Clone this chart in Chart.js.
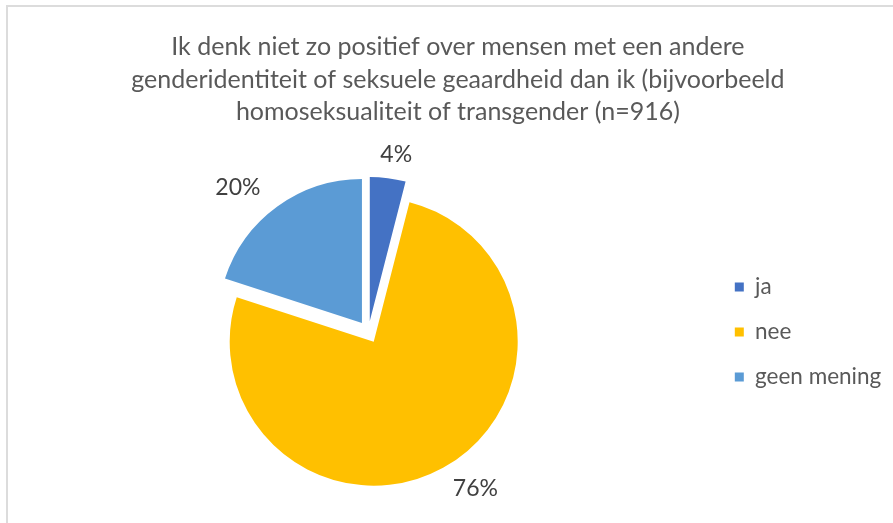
<!DOCTYPE html>
<html>
<head>
<meta charset="utf-8">
<script src="https://cdn.jsdelivr.net/npm/chart.js@4/dist/chart.umd.min.js"></script>
<style>
  html, body { margin: 0; padding: 0; background: #fff; overflow: hidden; }
  #frame { position: absolute; left: 6px; top: 5px; width: 900px; height: 530px; border: 2px solid #dcdcdc; box-sizing: border-box; }
  #wrap { position: absolute; left: 0; top: 0; width: 893px; height: 523px; }
</style>
</head>
<body>
<div id="frame"></div>
<div id="wrap"><canvas id="pie"></canvas></div>
<script>
const titleLines = [
    "Ik denk niet zo positief over mensen met een andere",
    "genderidentiteit of seksuele geaardheid dan ik (bijvoorbeeld",
    "homoseksualiteit of transgender (n=916)"
];
const categories = ["ja", "nee", "geen mening"];
const percentages = [4, 76, 20];
const sliceColors = ["#4472C4", "#FFC000", "#5B9BD5"];

// push every slice a bit away from the centre, like an exploded Excel pie
const explodeSlices = {
    id: "explodeSlices",
    afterDatasetsUpdate(chart) {
        chart.getDatasetMeta(0).data.forEach(arc => {
            const mid = (arc.startAngle + arc.endAngle) / 2;
            arc.x += Math.cos(mid) * 11;
            arc.y += Math.sin(mid) * 11;
        });
    }
};

// percentage labels outside each slice; text is wider than tall, so it
// sits further out sideways than up/down
const sliceLabels = {
    id: "sliceLabels",
    afterDatasetsDraw(chart) {
        const ctx = chart.ctx;
        ctx.save();
        ctx.font = "23px Lato";
        ctx.fillStyle = "#404040";
        ctx.textAlign = "center";
        ctx.textBaseline = "middle";
        chart.getDatasetMeta(0).data.forEach((arc, i) => {
            const mid = (arc.startAngle + arc.endAngle) / 2;
            const x = arc.x + Math.cos(mid) * (arc.outerRadius + 67);
            const y = arc.y + Math.sin(mid) * (arc.outerRadius + 24);
            ctx.fillText(percentages[i] + "%", x, y);
        });
        ctx.restore();
    }
};

new Chart(document.getElementById("pie").getContext("2d"), {
    type: "pie",
    data: {
        labels: categories,
        datasets: [{
            data: percentages,
            backgroundColor: sliceColors,
            borderWidth: 0,
            clip: false
        }]
    },
    options: {
        responsive: true,
        maintainAspectRatio: false,
        animation: false,
        events: [],
        radius: 144,
        layout: { padding: { top: 20, left: 24.5, right: 1.75, bottom: 0 } },
        plugins: {
            title: {
                display: true,
                text: titleLines,
                color: "#595959",
                font: { family: "Lato", size: 25, weight: "normal", lineHeight: 1.3 },
                padding: { top: 10.75, bottom: 12.75 }
            },
            legend: {
                position: "right",
                align: "center",
                fullSize: false,
                labels: {
                    boxWidth: 9,
                    boxHeight: 9,
                    padding: 22.5,
                    color: "#595959",
                    font: { family: "Lato", size: 22.5 }
                }
            },
            tooltip: { enabled: false }
        }
    },
    plugins: [explodeSlices, sliceLabels]
});
</script>
</body>
</html>
